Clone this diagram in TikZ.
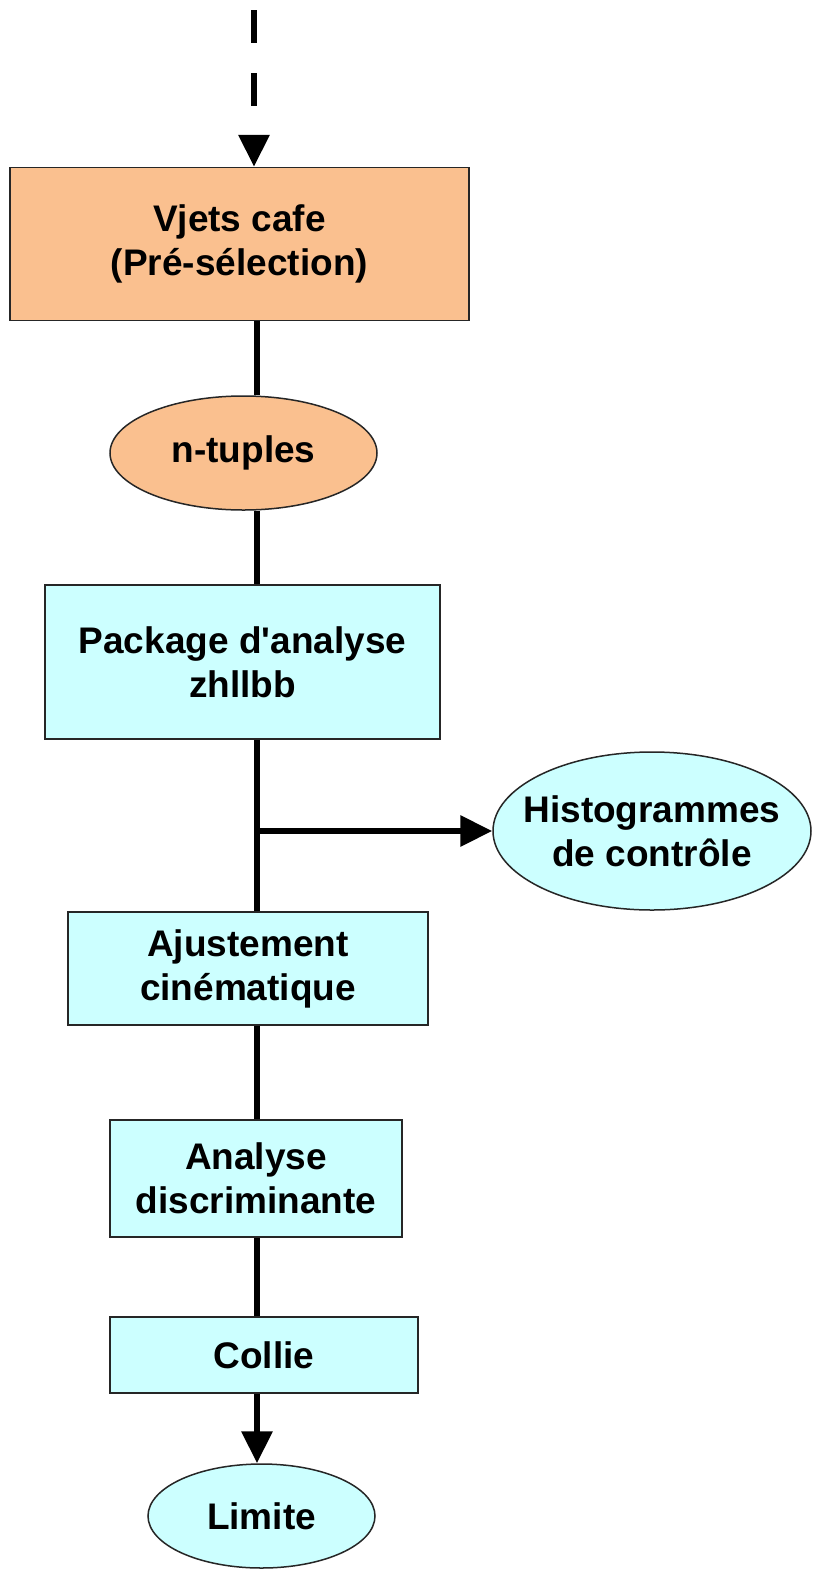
\documentclass[tikz,border=0pt]{standalone}
\usepackage{fontspec}
\setmainfont{Liberation Sans}
\usetikzlibrary{arrows.meta,shapes.geometric}
\definecolor{orangefill}{RGB}{250,192,143}
\definecolor{cyanfill}{RGB}{204,255,255}
\tikzset{
  txt/.style={font=\bfseries\fontsize{37}{44}\selectfont, align=center, inner sep=0pt, text=black},
  obox/.style={txt, rectangle, draw=black!85, line width=1.5pt, fill=orangefill},
  cbox/.style={txt, rectangle, draw=black!85, line width=1.5pt, fill=cyanfill},
  oell/.style={txt, ellipse, draw=black!85, line width=1.5pt, fill=orangefill},
  cell/.style={txt, ellipse, draw=black!85, line width=1.5pt, fill=cyanfill},
  conn/.style={line width=6.5pt, black},
  tip/.style={-{Triangle[width=30pt,length=32pt]}},
}
\begin{document}
\begin{tikzpicture}[x=1pt,y=-1pt]
\useasboundingbox[fill=white] (0,0) rectangle (814,1572);
\coordinate (axis) at (257,0);
\coordinate (start) at (254,10);
\node[obox, minimum width=459pt, minimum height=153pt] (vjets) at (239.5,244) {Vjets cafe\\(Pré-sélection)};
\node[oell, minimum width=267pt, minimum height=114pt] (ntuples) at (243.5,453) {n-tuples};
\node[cbox, minimum width=395pt, minimum height=154pt] (package) at (242.5,662) {Package d\textquotesingle analyse\\zhllbb};
\node[cell, inner sep=-30pt, minimum width=318pt, minimum height=158pt] (histo) at (652,831) {Histogrammes\\de contrôle};
\node[cbox, minimum width=360pt, minimum height=113pt] (ajust) at (248,968.5) {Ajustement\\cinématique};
\node[cbox, minimum width=292pt, minimum height=117pt] (analyse) at (256,1178.5) {Analyse\\discriminante};
\node[cbox, minimum width=308pt, minimum height=76pt] (collie) at (264,1355) {Collie};
\node[cell, minimum width=227pt, minimum height=104pt] (limite) at (261.5,1516) {Limite};
\coordinate (branch) at (axis |- histo.west);
% connectors
\draw[conn, tip, dash pattern=on 33pt off 30pt] (start) -- (start |- vjets.north);
\draw[conn] (axis |- vjets.south) -- (axis |- ntuples.north);
\draw[conn] (axis |- ntuples.south) -- (axis |- package.north);
\draw[conn] (axis |- package.south) -- (axis |- ajust.north);
\draw[conn, tip] (branch) -- (histo.west);
\draw[conn] (axis |- ajust.south) -- (axis |- analyse.north);
\draw[conn] (axis |- analyse.south) -- (axis |- collie.north);
\draw[conn, tip] (axis |- collie.south) -- (axis |- limite.north);
\end{tikzpicture}
\end{document}
